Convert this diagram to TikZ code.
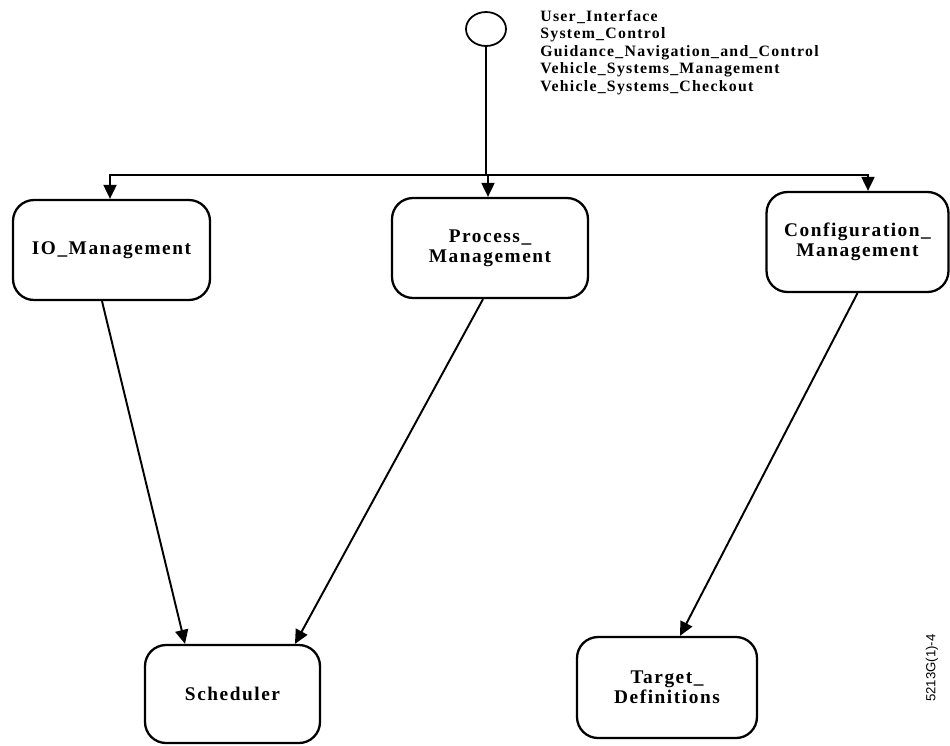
\documentclass[tikz,border=0pt]{standalone}
\usepackage{fontspec}
\setmainfont{Liberation Serif}
\newfontfamily\boxfont[LetterSpace=8]{Liberation Serif}
\newfontfamily\listfont[LetterSpace=8]{Liberation Serif}
\setsansfont{Liberation Sans}
\usetikzlibrary{arrows.meta,shapes.geometric}

\tikzset{
  module/.style={draw, line width=1.3pt, rounded corners=0.42cm, align=center,
    font=\boxfont\bfseries\fontsize{11}{11.5}\selectfont},
  flow/.style={line width=1.1pt, -{Triangle[length=0.28cm,width=0.26cm]}},
  plain/.style={line width=1.1pt}
}

\begin{document}
\begin{tikzpicture}[x=0.02cm, y=-0.02cm]
  \useasboundingbox (0,0) rectangle (950,745);

  % interface
  \node[ellipse, draw, line width=1pt, minimum width=0.8cm, minimum height=0.68cm, inner sep=0pt] (port) at (486,29) {};
  \node[anchor=north west, align=left, inner sep=0pt,
        font=\listfont\bfseries\fontsize{9}{9.9}\selectfont] (users) at (540,10)
    {User\_Interface\\System\_Control\\Guidance\_Navigation\_and\_Control\\
     Vehicle\_Systems\_Management\\Vehicle\_Systems\_Checkout};

  % modules
  \node[module, minimum width=3.94cm, minimum height=2.0cm] (io) at (111.5,250) {IO\_Management};
  \node[module, minimum width=3.92cm, minimum height=2.0cm] (proc) at (490,248) {Process\_\\Management};
  \node[module, minimum width=3.64cm, minimum height=2.0cm] (conf) at (857.5,242) {Configuration\_\\Management};
  \node[module, minimum width=3.5cm, minimum height=1.96cm] (sched) at (232.5,694) {Scheduler};
  \node[module, minimum width=3.6cm, minimum height=2.02cm] (target) at (667,687.5) {Target\_\\Definitions};

  \node[rotate=90, font=\sffamily\fontsize{7.5}{9}\selectfont] (tag) at (932,668) {5213G(1)-4};

  % bus
  \coordinate (bus) at (488,175);
  \draw[plain] (port) -- (port.south |- bus);
  \draw[flow] (bus) -| ([xshift=-0.03cm]io.north);
  \draw[flow] (bus) -- (proc.north -| bus);
  \draw[flow] (bus) -| ([xshift=0.21cm]conf.north);

  % uses
  \draw[flow] ([xshift=-0.19cm]io.south) -- ([xshift=-0.95cm]sched.north);
  \draw[flow] ([xshift=-0.14cm]proc.south) -- ([xshift=1.25cm]sched.north);
  \draw[flow] (conf.south) -- ([xshift=0.26cm]target.north);
\end{tikzpicture}
\end{document}
